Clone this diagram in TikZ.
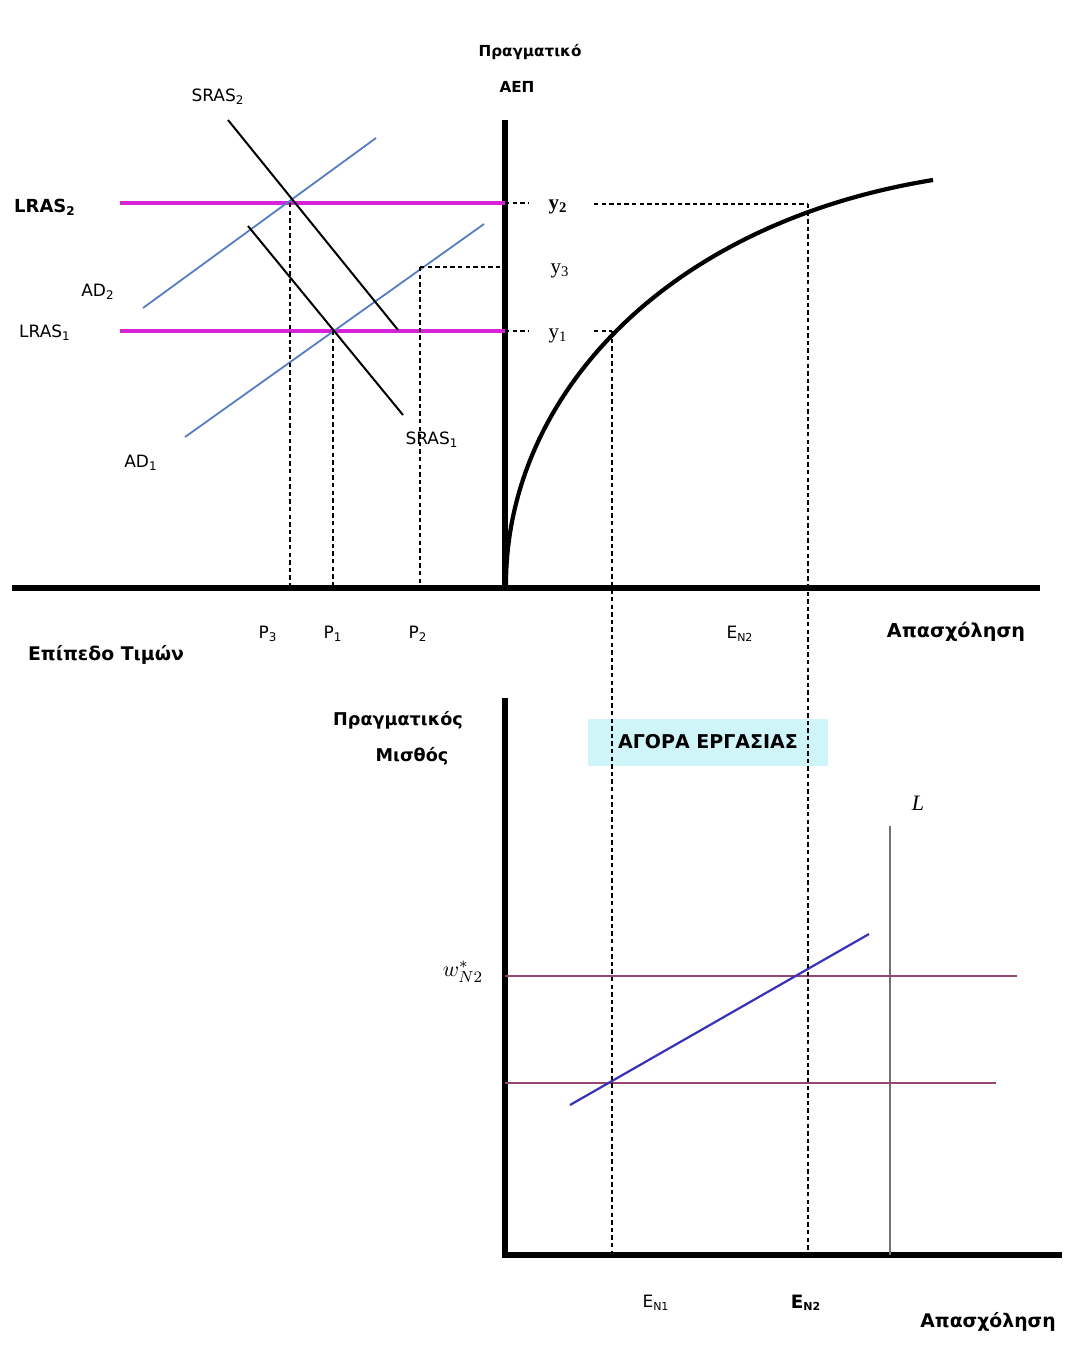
\documentclass[tikz,border=0pt]{standalone}
\usepackage{fontspec}
\setmainfont{DejaVu Sans}
\newfontfamily\cambria{Liberation Serif}
\definecolor{lrasmag}{RGB}{215,35,215}
\definecolor{adblue}{RGB}{85,125,195}
\definecolor{wageline}{RGB}{150,70,115}
\definecolor{nsblue}{RGB}{55,50,185}
\definecolor{boxcyan}{RGB}{208,245,249}

\begin{document}
\begin{tikzpicture}[x=0.5pt, y=-0.5pt, every node/.style={font=\fontsize{8.5}{10}\selectfont},
    axis/.style={line width=2.7pt},
    guide/.style={line width=0.9pt, dash pattern=on 2.2pt off 1.6pt},
    lras/.style={line width=2pt, lrasmag},
    adline/.style={line width=0.9pt, adblue},
    srasline/.style={line width=1pt, black},
    lbl/.style={inner sep=1pt},
    blbl/.style={inner sep=1pt, font=\fontsize{9.2}{10}\selectfont\bfseries},
    ylbl/.style={inner sep=1pt, font=\fontsize{10.5}{12}\selectfont\cambria}]
  \useasboundingbox (0,0) rectangle (1065,1349);

  % ---- upper panel: axes
  \coordinate (o1) at (505,588);
  \coordinate (ytop) at (505,120);
  \coordinate (xleft) at (12,588);
  \coordinate (xright) at (1040,588);
  \draw[axis] (xleft) -- (xright);
  \draw[axis] (o1) -- (ytop);
  \node[blbl, font=\fontsize{7.6}{10}\selectfont\bfseries] (gdp1) at (530,52) {Πραγματικό};
  \node[blbl, font=\fontsize{7.6}{10}\selectfont\bfseries] (gdp2) at (517,87) {ΑΕΠ};

  % production function
  \coordinate (fstart) at (506,586);
  \coordinate (fend) at (933,180);
  \draw[line width=2.1pt] (fstart) .. controls (505,400) and (662,224) .. (fend);

  % LRAS lines
  \coordinate (l2a) at (120,203);
  \coordinate (l2b) at (505,203);
  \coordinate (l1a) at (120,331);
  \coordinate (l1b) at (505,331);
  \draw[lras] (l2a) -- (l2b);
  \draw[lras] (l1a) -- (l1b);
  \node[blbl, font=\fontsize{9}{10}\selectfont\bfseries] (lras2) at (45,207) {LRAS\textsubscript{2}};
  \node[lbl] (lras1) at (45,333) {LRAS\textsubscript{1}};

  % AD lines
  \coordinate (ad2a) at (143,308);
  \coordinate (ad2b) at (376,138);
  \coordinate (ad1a) at (185,437);
  \coordinate (ad1b) at (484,224);
  \draw[adline] (ad2a) -- (ad2b);
  \draw[adline] (ad1a) -- (ad1b);
  \node[lbl] (ad2) at (98,292) {AD\textsubscript{2}};
  \node[lbl] (ad1) at (141,463) {AD\textsubscript{1}};

  % SRAS lines
  \coordinate (s2a) at (228,120);
  \coordinate (s2b) at (398,330);
  \coordinate (s1a) at (248,226);
  \coordinate (s1b) at (403,415);
  \draw[srasline] (s2a) -- (s2b);
  \draw[srasline] (s1a) -- (s1b);
  \node[lbl] (sras2) at (218,97) {SRAS\textsubscript{2}};
  \node[lbl] (sras1) at (432,440) {SRAS\textsubscript{1}};

  % output levels
  \node[ylbl, font=\fontsize{10.5}{12}\selectfont\cambria\bfseries] (y2) at (558,207) {y\textsubscript{2}};
  \node[ylbl] (y3) at (560,271) {y\textsubscript{3}};
  \node[ylbl] (y1) at (558,336) {y\textsubscript{1}};
  \coordinate (en2top) at (808,204);
  \coordinate (en1top) at (612,331);
  \coordinate (p2top) at (420,267);
  \coordinate (y3axis) at (505,267);
  \coordinate (y2l) at (528,203);
  \coordinate (y2r) at (594,204);
  \coordinate (y1l) at (528,331);
  \coordinate (y1r) at (594,331);
  \draw[guide] (l2b) -- (y2l);
  \draw[guide] (y2r) -- (en2top);
  \draw[guide] (l1b) -- (y1l);
  \draw[guide] (y1r) -- (en1top);
  \draw[guide] (p2top) -- (y3axis);

  % price levels
  \coordinate (p3top) at (290,203);
  \coordinate (p1top) at (333,331);
  \coordinate (p3bot) at (290,588);
  \coordinate (p1bot) at (333,588);
  \coordinate (p2bot) at (420,588);
  \draw[guide] (p3top) -- (p3bot);
  \draw[guide] (p1top) -- (p1bot);
  \draw[guide] (p2top) -- (p2bot);
  \node[lbl] (p3) at (268,634) {P\textsubscript{3}};
  \node[lbl] (p1) at (333,634) {P\textsubscript{1}};
  \node[lbl] (p2) at (418,634) {P\textsubscript{2}};
  \node[blbl, font=\fontsize{9.4}{10}\selectfont\bfseries] (price) at (106,655) {Επίπεδο Τιμών};
  \node[lbl] (en2u) at (740,634) {E\textsubscript{\fontsize{5.5}{6}\selectfont N2}};
  \node[blbl, font=\fontsize{9.6}{10}\selectfont\bfseries] (emp1) at (956,632) {Απασχόληση};

  % ---- lower panel: labour market
  \coordinate (o2) at (505,1255);
  \coordinate (wtop) at (505,698);
  \coordinate (nright) at (1062,1255);
  \draw[axis] (wtop) -- (o2) -- (nright);
  \node[blbl, font=\fontsize{8.8}{10}\selectfont\bfseries] (wage1) at (398,720) {Πραγματικός};
  \node[blbl, font=\fontsize{8.8}{10}\selectfont\bfseries] (wage2) at (412,756) {Μισθός};
  \node[fill=boxcyan, minimum width=120pt, minimum height=23.5pt, font=\fontsize{9.5}{10}\selectfont\bfseries]
    (market) at (708,742) {ΑΓΟΡΑ ΕΡΓΑΣΙΑΣ};

  % labour force
  \coordinate (ltop) at (890,826);
  \coordinate (lbot) at (890,1255);
  \draw[line width=0.9pt, black!55] (ltop) -- (lbot);
  \node[font=\fontsize{11}{12}\selectfont\cambria\itshape] (lab) at (918,803) {L};

  % real wages
  \coordinate (w2a) at (505,976);
  \coordinate (w2b) at (1017,976);
  \coordinate (w1a) at (505,1083);
  \coordinate (w1b) at (996,1083);
  \draw[line width=0.9pt, wageline] (w2a) -- (w2b);
  \draw[line width=0.9pt, wageline] (w1a) -- (w1b);
  \node[font=\fontsize{11}{12}\selectfont] (wn2) at (463,972) {$w^{\ast}_{N2}$};

  % labour supply
  \coordinate (nsa) at (570,1105);
  \coordinate (nsb) at (869,934);
  \draw[line width=1.1pt, nsblue] (nsa) -- (nsb);

  % employment levels
  \coordinate (en1bot) at (612,1255);
  \coordinate (en2bot) at (808,1255);
  \draw[guide] (en1top) -- (en1bot);
  \draw[guide] (en2top) -- (en2bot);
  \node[lbl] (en1) at (656,1303) {E\textsubscript{\fontsize{5.5}{6}\selectfont N1}};
  \node[blbl] (en2) at (806,1303) {E\textsubscript{\fontsize{5.5}{6}\selectfont\bfseries N2}};
  \node[blbl, font=\fontsize{9.4}{10}\selectfont\bfseries] (emp2) at (988,1322) {Απασχόληση};
\end{tikzpicture}
\end{document}
